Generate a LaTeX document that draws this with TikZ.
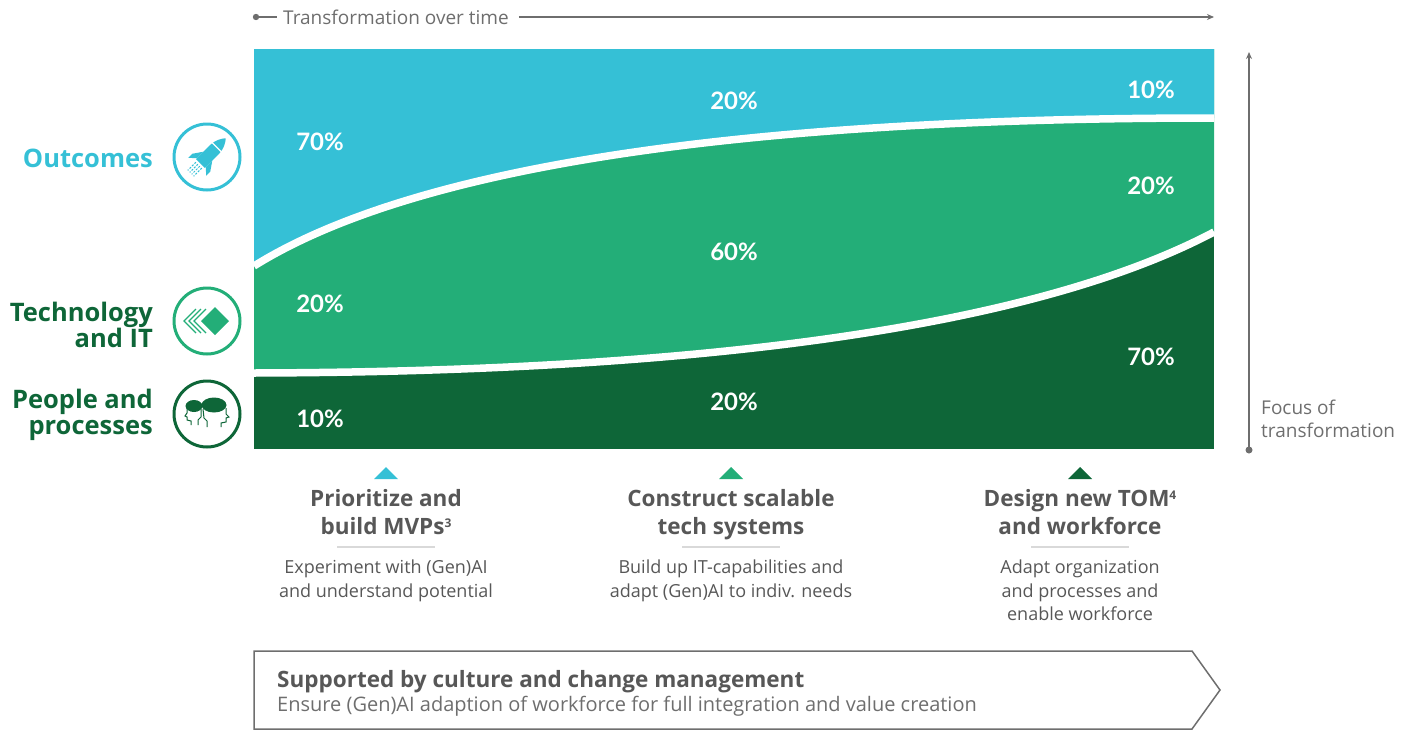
\documentclass[tikz,border=0pt]{standalone}
\usepackage{fontspec}
\setmainfont{Open Sans}
\newfontfamily\pctfont{Lato}
\usetikzlibrary{arrows.meta,positioning}
\definecolor{outc}{HTML}{35C0D6}
\definecolor{tech}{HTML}{23AE78}
\definecolor{peop}{HTML}{0E6638}
\definecolor{txtgray}{HTML}{575757}
\definecolor{axisgray}{HTML}{6E6E6E}
\definecolor{rulegray}{HTML}{D9D9D9}
\newcommand{\fnmark}[1]{{\fontsize{12}{12}\selectfont\raisebox{7pt}{#1}}}
\tikzset{
    pct/.style={text=white, inner sep=0pt, font=\pctfont\bfseries\fontsize{24}{24}\selectfont},
    lbl/.style={anchor=east, align=right, inner sep=0pt, font=\bfseries\fontsize{25.5}{25.5}\selectfont},
    ring/.style={circle, draw=#1, line width=3pt, minimum size=66pt, inner sep=0pt},
    ttl/.style={anchor=north, align=center, text=txtgray, inner sep=0pt, font=\bfseries\fontsize{22.5}{28}\selectfont},
    dsc/.style={anchor=north, align=center, text=txtgray, inner sep=0pt, font=\fontsize{18}{23.5}\selectfont},
    note/.style={text=axisgray, inner sep=0pt, font=\fontsize{19}{23}\selectfont},
    axis/.style={draw=axisgray, line width=1.3pt},
}
\begin{document}
\begin{tikzpicture}[x=1pt,y=-1pt]
    \useasboundingbox (0,0) rectangle (1413,731);
    % bands
    \fill[peop] (254,49) rectangle (1214,449);
    \fill[tech] (254,49) -- (254,373) .. controls (600,372) and (1000,345) .. (1214,232) -- (1214,49) -- cycle;
    \fill[outc] (254,49) -- (254,266) .. controls (400,175) and (700,118) .. (1214,118) -- (1214,49) -- cycle;
    \begin{scope}
        \clip (254,49) rectangle (1214,449);
        \draw[white, line width=7.5pt] (254,373) .. controls (600,372) and (1000,345) .. (1214,232);
        \draw[white, line width=7.5pt] (254,266) .. controls (400,175) and (700,118) .. (1214,118);
    \end{scope}
    \foreach \x/\y/\p [count=\n] in {320/142/70, 320/304/20, 320/419/10,
            734/101/20, 734/252/60, 734/402/20,
            1151/90/10, 1151/186/20, 1151/357/70} {
        \node[pct] (p-\n) at (\x,\y) {\p\%};
    }

    % time axis
    \coordinate (t-start) at (256,17);
    \coordinate (t-end) at (1214,17);
    \node[note, anchor=west] (t-lbl) at (283,17) {Transformation over time};
    \fill[axisgray] (t-start) circle (3.2);
    \draw[axis] (t-start) -- ([xshift=-6pt]t-lbl.west);
    \draw[axis, -{Stealth[length=7pt,width=6pt]}] ([xshift=10pt]t-lbl.east) -- (t-end);

    % focus axis
    \coordinate (f-start) at (1249,450);
    \coordinate (f-end) at (1249,52);
    \fill[axisgray] (f-start) circle (3.5);
    \draw[axis, -{Stealth[length=7pt,width=6pt]}] (f-start) -- (f-end);
    \node[note, anchor=west, align=left] (f-lbl) at (1261,419) {Focus of\\transformation};

    % dimensions
    \node[lbl, text=outc] (l-out) at (153,158) {Outcomes};
    \node[lbl, text=peop] (l-tech) at (153,325) {Technology\\and IT};
    \node[lbl, text=peop] (l-ppl) at (153,415) {People and\\processes};
    \node[ring=outc] (ico-out) at (207,157) {};
    \node[ring=tech] (ico-tech) at (207,321) {};
    \node[ring=peop] (ico-ppl) at (207,414) {};

    \begin{scope}[shift={(ico-out.center)}, rotate=-45, scale=1.15, outc]
        \fill (-5.5,8) -- (-5.5,-8) .. controls (-5.5,-16) and (-2,-21) .. (0,-23)
            .. controls (2,-21) and (5.5,-16) .. (5.5,-8) -- (5.5,8) -- cycle;
        \draw[white, line width=1.2pt] (-6,-12) -- (6,-12);
        \fill (-5.5,-1) -- (-11,7) -- (-11,12) -- (-5.5,7) -- cycle;
        \fill (5.5,-1) -- (11,7) -- (11,12) -- (5.5,7) -- cycle;
        \foreach \s in {-3.6,-1.2,1.2,3.6} {
            \draw[line width=1pt, dash pattern=on 2pt off 1.5pt] (\s,10) -- (\s,20);
        }
    \end{scope}

    \begin{scope}[shift={(ico-tech.center)}, tech]
        \foreach \d in {0,5,10} {
            \draw[line width=1.2pt] (-11+\d,-12) -- (-23+\d,0) -- (-11+\d,12);
        }
        \fill (8,-14) -- (22,0) -- (8,14) -- (-6,0) -- cycle;
    \end{scope}

    \begin{scope}[shift={(ico-ppl.center)}, peop, line width=1pt]
        \fill (-13,-8) ellipse (8.5 and 6);
        \draw (-20,-6) -- (-20,-1) -- (-22,2) -- (-20,3) -- (-20,6) -- (-16,7) -- (-16,11);
        \draw (-6,-5) -- (-6,3) -- (-9,6) -- (-9,11);
        \fill (7,-9) ellipse (12.5 and 7.5);
        \draw (19,-6) -- (19,0) -- (22,3) -- (19,4) -- (19,8) -- (14,9) -- (14,13);
        \draw (-4,-5) -- (-3,4) -- (0,7) -- (0,13);
    \end{scope}

    % steps
    \foreach \x/\c/\t/\d [count=\n] in {
            386/outc/{Prioritize and\\build MVPs\fnmark{3}}/{Experiment with (Gen)AI\\and understand potential},
            731/tech/{Construct scalable\\tech systems}/{Build up IT-capabilities and\\adapt (Gen)AI to indiv. needs},
            1080/peop/{Design new TOM\fnmark{4}\\and workforce}/{Adapt organization\\and processes and\\enable workforce}} {
        \fill[\c] (\x-12,479) -- (\x,467) -- (\x+12,479) -- cycle;
        \node[ttl] (ttl-\n) at (\x,489) {\t};
        \draw[rulegray, line width=2pt] (\x-49,547) -- (\x+49,547);
        \node[dsc] (dsc-\n) at (\x,560) {\d};
    }

    % culture
    \draw[draw=axisgray, line width=1.5pt, line join=miter]
        (254,651) -- (1192,651) -- (1220,690) -- (1192,729) -- (254,729) -- cycle;
    \node[anchor=west, text=txtgray, inner sep=0pt, font=\bfseries\fontsize{22.5}{24}\selectfont] (c-ttl) at (277,682)
        {Supported by culture and change management};
    \node[note, anchor=west, font=\fontsize{20}{23}\selectfont] (c-dsc) at (277,706)
        {Ensure (Gen)AI adaption of workforce for full integration and value creation};
\end{tikzpicture}
\end{document}
